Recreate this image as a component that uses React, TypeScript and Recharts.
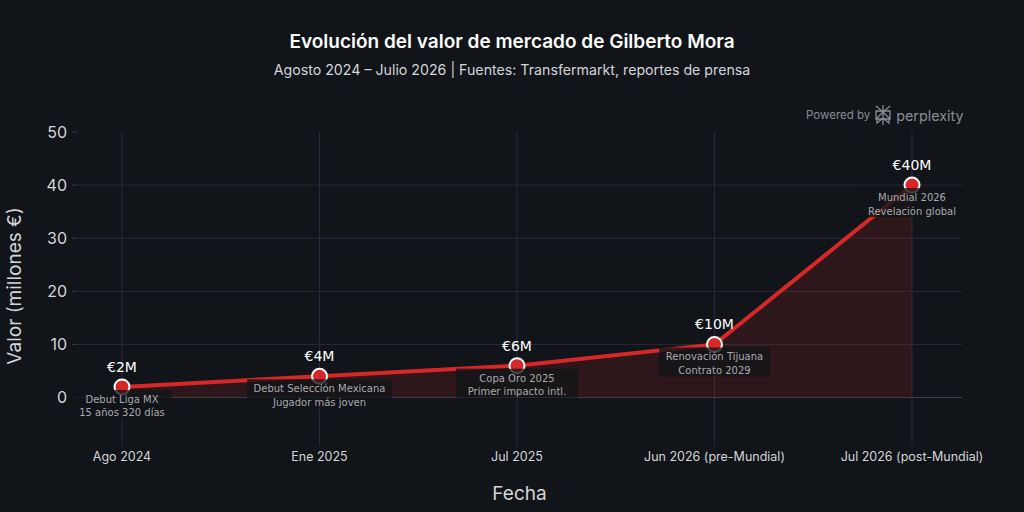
import React from 'react';
import {
  ComposedChart,
  Area,
  Line,
  XAxis,
  YAxis,
  CartesianGrid,
  ReferenceLine,
  LabelList,
} from 'recharts';

// Market value series (millions of euros)
const fechas = ['Ago 2024', 'Ene 2025', 'Jul 2025', 'Jun 2026 (pre-Mundial)', 'Jul 2026 (post-Mundial)'];
const valores = [2, 4, 6, 10, 40];
const etiquetasValor = ['€2M', '€4M', '€6M', '€10M', '€40M'];
const hitos = [
  ['Debut Liga MX', '15 años 320 días'],
  ['Debut Selección Mexicana', 'Jugador más joven'],
  ['Copa Oro 2025', 'Primer impacto intl.'],
  ['Renovación Tijuana', 'Contrato 2029'],
  ['Mundial 2026', 'Revelación global'],
];
const ticksY = [0, 10, 20, 30, 40, 50];

const data = fechas.map((fecha, i) => ({ fecha, valor: valores[i] }));

const BG = '#111418';
const RED = '#d62828';
const GRID = '#262a3b';
const SANS = 'Inter, "Noto Sans", sans-serif';
const DEJAVU = '"DejaVu Sans", sans-serif';

// value above the point, milestone note (with a translucent box) below it
const renderPointLabel = (props: any) => {
  const { x, y, index } = props;
  const lines = hitos[index];
  const w = Math.max(...lines.map((l) => l.length)) * 5.7 + 8;
  return (
    <g>
      <rect x={x - w / 2} y={y + 3} width={w} height={29} fill={BG} fillOpacity={0.78} />
      <text x={x} y={y - 20} textAnchor="middle" dominantBaseline="central" fill="#ffffff" fontSize={14} fontFamily={DEJAVU}>
        {etiquetasValor[index]}
      </text>
      {lines.map((l, k) => (
        <text key={k} x={x} y={y + 12.5 + k * 13.5} textAnchor="middle" dominantBaseline="central" fill="#a9aaae" fontSize={10} fontFamily={DEJAVU}>
          {l}
        </text>
      ))}
    </g>
  );
};

const PerplexityMark = () => (
  <svg width={20} height={22} viewBox="0 0 20 22" style={{ display: 'block' }}>
    <g stroke="#8a8d93" strokeWidth={1.3} fill="none">
      <path d="M10 1 V21" />
      <path d="M3 2 L10 8 L17 2" />
      <path d="M3 7 H17 V15 H3 Z" />
      <path d="M10 8 L4 14 V19 L10 14" />
      <path d="M10 8 L16 14 V19 L10 14" />
    </g>
  </svg>
);

export default function App() {
  return (
    <div style={{ position: 'absolute', left: 0, top: 0, width: 1024, height: 512, background: BG, overflow: 'hidden' }}>
      <div style={{ position: 'absolute', top: 30, width: 1024, textAlign: 'center', color: '#ffffff', fontFamily: SANS, fontSize: 19, fontWeight: 600, lineHeight: '24px' }}>
        Evolución del valor de mercado de Gilberto Mora
      </div>
      <div style={{ position: 'absolute', top: 61, width: 1024, textAlign: 'center', color: '#d4d5d8', fontFamily: SANS, fontSize: 14.2, lineHeight: '18px' }}>
        Agosto 2024 – Julio 2026 | Fuentes: Transfermarkt, reportes de prensa
      </div>
      <div style={{ position: 'absolute', top: 104, left: 806, display: 'flex', alignItems: 'center', gap: 3, color: '#8a8d93', fontFamily: SANS }}>
        <span style={{ fontSize: 11.5 }}>Powered by</span>
        <PerplexityMark />
        <span style={{ fontSize: 14.3 }}>perplexity</span>
      </div>
      <ComposedChart width={1024} height={512} data={data} margin={{ top: 132, right: 62, bottom: 0, left: 0 }}>
        <CartesianGrid stroke={GRID} strokeWidth={1} horizontalValues={[10, 20, 30, 40]} verticalValues={fechas} />
        <XAxis
          dataKey="fecha"
          padding={{ left: 45, right: 50 }}
          height={72}
          axisLine={false}
          tickSize={6}
          tickMargin={6}
          tickLine={{ stroke: GRID }}
          tick={{ fill: '#d4d5d8', fontSize: 12.5, fontFamily: SANS }}
          label={{ value: 'Fecha', position: 'insideBottom', offset: 12, fill: '#d4d5d8', fontSize: 19, fontFamily: SANS }}
        />
        <YAxis
          type="number"
          domain={[-8, 50]}
          ticks={ticksY}
          width={77}
          axisLine={false}
          tickSize={5}
          tickMargin={5}
          tickLine={{ stroke: '#3a3d47' }}
          tick={{ fill: '#d4d5d8', fontSize: 16, fontFamily: SANS }}
          label={{
            content: ({ viewBox }: any) => {
              const cx = 14;
              const cy = viewBox.y + viewBox.height / 2;
              return (
                <text x={cx} y={cy} transform={`rotate(-90 ${cx} ${cy})`} textAnchor="middle" dominantBaseline="central" fill="#d4d5d8" fontSize={19} fontFamily={SANS}>
                  Valor (millones €)
                </text>
              );
            },
          }}
        />
        <ReferenceLine y={0} stroke="#3d4049" strokeWidth={1} />
        <Area type="linear" dataKey="valor" baseValue={0} stroke="none" fill={RED} fillOpacity={0.15} isAnimationActive={false} />
        <Line
          type="linear"
          dataKey="valor"
          stroke={RED}
          strokeWidth={4}
          dot={{ r: 7.5, fill: RED, stroke: '#ffffff', strokeWidth: 2 }}
          activeDot={false}
          isAnimationActive={false}
        >
          <LabelList dataKey="valor" content={renderPointLabel} />
        </Line>
      </ComposedChart>
    </div>
  );
}
